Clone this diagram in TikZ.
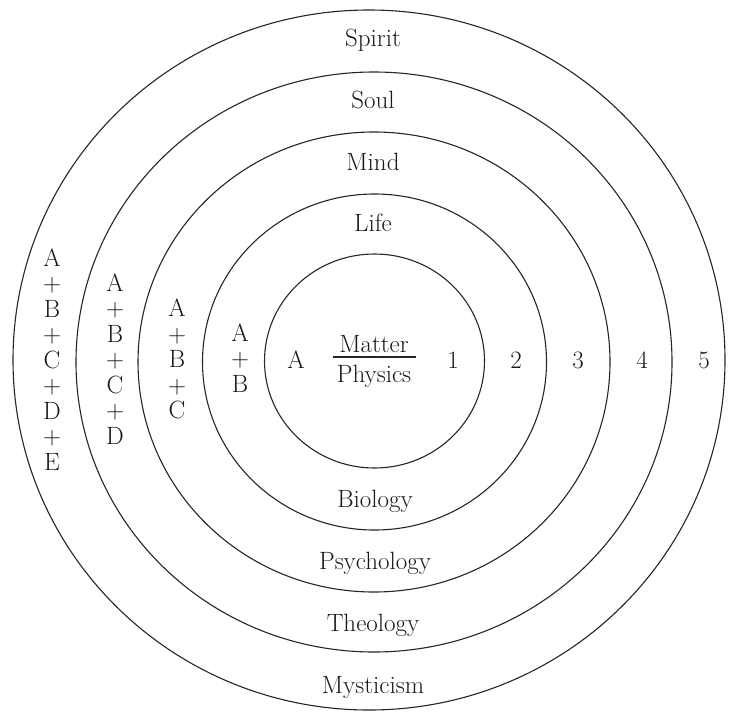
\documentclass[tikz,border=0pt]{standalone}
\begin{document}
\begin{tikzpicture}[x=1pt,y=-1pt,
  ring/.style={draw=black!85, line width=1.1pt},
  lbl/.style={font=\fontsize{25}{25.5}\selectfont, inner sep=0pt, text=black!90},
  col/.style={lbl, align=center}]
\useasboundingbox[fill=white] (0,0) rectangle (730,712);
% rings
\draw[ring] (374.5,361) ellipse [x radius=110, y radius=107];
\draw[ring] (374.5,362) ellipse [x radius=172, y radius=168];
\draw[ring] (374,362) ellipse [x radius=236, y radius=230];
\draw[ring] (374,362) ellipse [x radius=298, y radius=290];
\draw[ring] (369,360) ellipse [x radius=356, y radius=350];
% top labels
\node[lbl] (spirit) at (373,40) {Spirit};
\node[lbl] (soul) at (373,100) {Soul};
\node[lbl] (mind) at (373,162) {Mind};
\node[lbl] (life) at (373,223) {Life};
% bottom labels
\node[lbl] (biology) at (375,501) {Biology};
\node[lbl] (psychology) at (375,563) {Psychology};
\node[lbl] (theology) at (373,625) {Theology};
\node[lbl] (mysticism) at (373,687) {Mysticism};
% centre
\node[lbl] (matter) at (374,344) {Matter};
\node[lbl] (physics) at (374,376) {Physics};
\coordinate (fl) at (333,357);
\coordinate (fr) at (416,357);
\draw[draw=black!85, line width=1.1pt] (fl) -- (fr);
\node[lbl] (a0) at (296,360) {A};
% numbers
\node[lbl] (n1) at (453,360) {1};
\node[lbl] (n2) at (516,360) {2};
\node[lbl] (n3) at (578,360) {3};
\node[lbl] (n4) at (642,360) {4};
\node[lbl] (n5) at (704,360) {5};
% columns
\node[col] (c4) at (240,358) {A\\+\\B};
\node[col] (c3) at (177,359) {A\\+\\B\\+\\C};
\node[col] (c2) at (115,359) {A\\+\\B\\+\\C\\+\\D};
\node[col] (c1) at (52,359.5) {A\\+\\B\\+\\C\\+\\D\\+\\E};
\end{tikzpicture}
\end{document}
